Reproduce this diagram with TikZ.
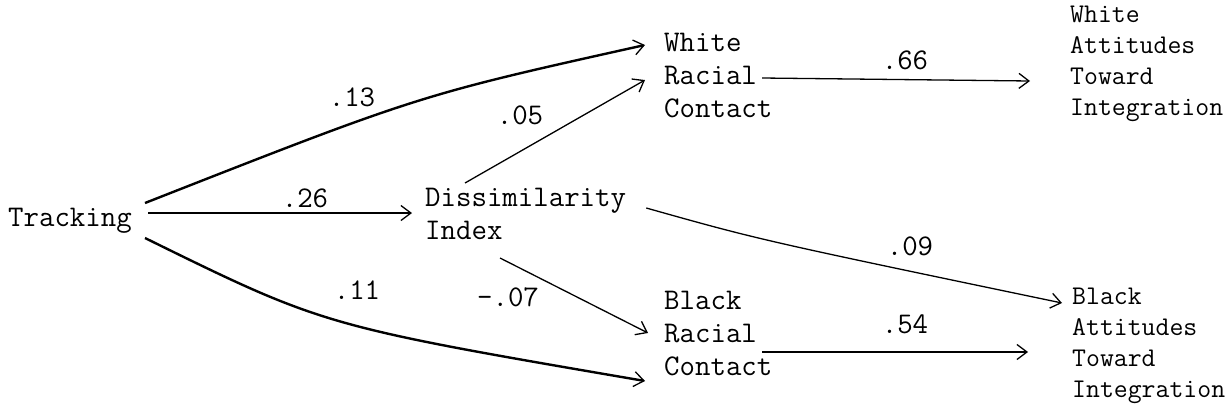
\documentclass[tikz,border=0pt]{standalone}
\usetikzlibrary{arrows.meta}
\begin{document}
\begin{tikzpicture}[x=1pt,y=-1pt,
  var/.style={inner sep=0pt,anchor=west,align=left,font=\fontsize{30}{33}\selectfont\ttfamily},
  outv/.style={inner sep=0pt,anchor=west,align=left,font=\fontsize{27}{31}\selectfont\ttfamily},
  coef/.style={inner sep=0pt,font=\fontsize{30}{33}\selectfont\ttfamily},
  path/.style={line width=1.3pt,-{Straight Barb[length=10pt,width=15pt,line width=1.3pt]}},
  thick path/.style={path,line width=2.4pt}]
\useasboundingbox (0,0) rectangle (1227,410);
% variables
\node[var] (trk) at (8,221) {Tracking};
\node[var] (dis) at (425,214) {Dissimilarity\\Index};
\node[var] (wrc) at (664,76) {White\\Racial\\Contact};
\node[var] (brc) at (664,334) {Black\\Racial\\Contact};
\node[outv] (wat) at (1070,64) {White\\Attitudes\\Toward\\Integration};
\node[outv] (bat) at (1072,346) {Black\\Attitudes\\Toward\\Integration};
% paths
\draw[thick path] ([xshift=13pt,yshift=18pt]trk.east) .. controls (420,95) .. ([xshift=-19pt,yshift=31pt]wrc.west);
\draw[path] ([xshift=16pt,yshift=8pt]trk.east) -- ([xshift=-13pt,yshift=1pt]dis.west);
\draw[thick path] ([xshift=13pt,yshift=-17pt]trk.east) .. controls (324,326) .. ([xshift=-19pt,yshift=-47pt]brc.west);
\draw[path] ([xshift=40pt,yshift=31pt]dis.west) -- ([xshift=-19pt,yshift=-4pt]wrc.west);
\draw[path] ([xshift=75pt,yshift=-44pt]dis.west) -- ([xshift=-16pt,yshift=1pt]brc.west);
\draw[path] ([xshift=20pt,yshift=6pt]dis.east) .. controls (760,240) .. ([xshift=-10pt,yshift=43pt]bat.west);
\draw[path] ([xshift=98pt,yshift=-2pt]wrc.west) -- ([xshift=-40pt,yshift=-17pt]wat.west);
\draw[path] ([xshift=98pt,yshift=-18pt]brc.west) -- ([xshift=-44pt,yshift=-6pt]bat.west);
% coefficients
\node[coef] (c13) at (352,97) {.13};
\node[coef] (c26) at (305,198) {.26};
\node[coef] (c11) at (357,290) {.11};
\node[coef] (c05) at (520,115) {.05};
\node[coef] (c07) at (508,297) {-.07};
\node[coef] (c09) at (910,246) {.09};
\node[coef] (c66) at (905,60) {.66};
\node[coef] (c54) at (905,324) {.54};
\end{tikzpicture}
\end{document}
